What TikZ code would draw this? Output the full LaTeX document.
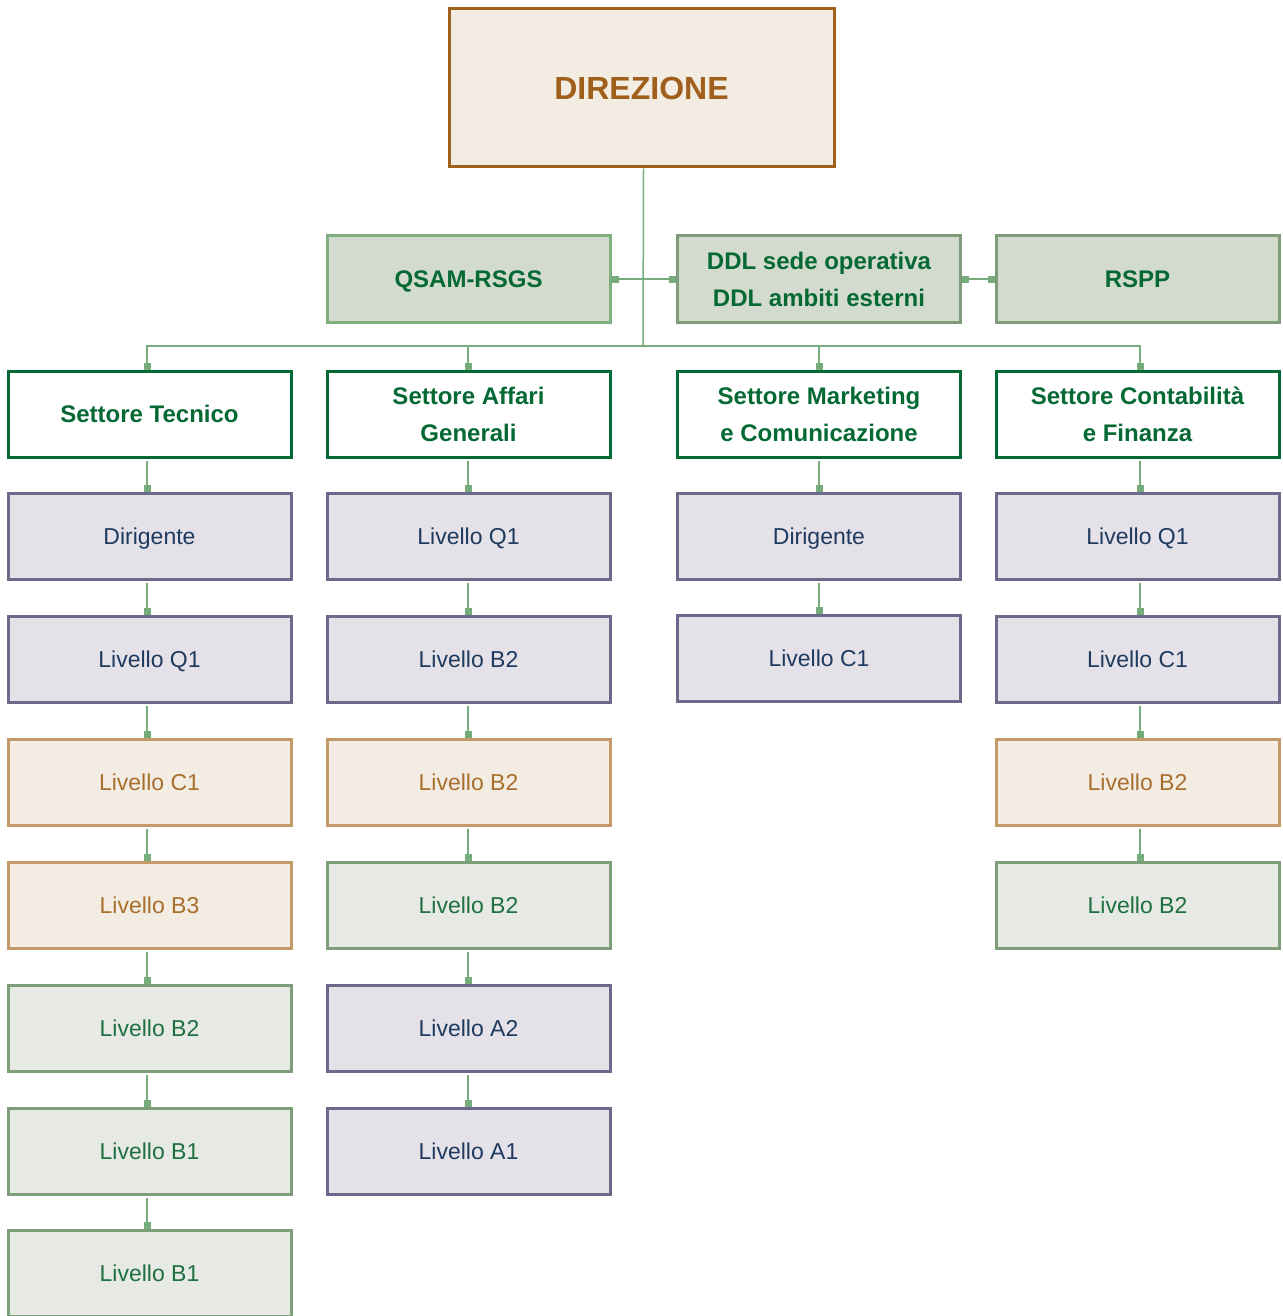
\documentclass[tikz,border=0pt]{standalone}
\usepackage{fontspec}
\setmainfont{Liberation Sans}
\usetikzlibrary{arrows.meta}
\definecolor{dirfill}{HTML}{F3ECE3}
\definecolor{dirdraw}{HTML}{A0601C}
\definecolor{dgreen}{HTML}{056934}
\definecolor{aufill}{HTML}{D3DACE}
\definecolor{audraw}{HTML}{7FAF7F}
\definecolor{audrawb}{HTML}{7E9B7A}
\definecolor{pufill}{HTML}{E4E1E8}
\definecolor{pudraw}{HTML}{6C6A8A}
\definecolor{putext}{HTML}{1F3A5F}
\definecolor{tafill}{HTML}{F3ECE2}
\definecolor{tadraw}{HTML}{C4996A}
\definecolor{tatext}{HTML}{A86F2C}
\definecolor{grfill}{HTML}{E7E9E4}
\definecolor{grdraw}{HTML}{7D9E78}
\definecolor{grtext}{HTML}{1E7040}
\definecolor{conncol}{HTML}{77AD7C}
\tikzset{
  box/.style={draw, rectangle, minimum width=141.5pt, minimum height=43pt, inner sep=0pt, align=center, line width=1.5pt},
  hd/.style={box, fill=white, draw=dgreen, text=dgreen, font=\fontsize{12}{18.5}\selectfont\bfseries},
  aux/.style={box, fill=aufill, draw=audraw, text=dgreen, font=\fontsize{12}{18.5}\selectfont\bfseries},
  auxb/.style={aux, draw=audrawb},
  oneb/.style={text height=8.6pt, text depth=0pt},
  lv/.style={box, font=\fontsize{11.5}{14}\selectfont, text height=8.3pt, text depth=0pt},
  pu/.style={lv, fill=pufill, draw=pudraw, text=putext},
  ta/.style={lv, fill=tafill, draw=tadraw, text=tatext},
  gr/.style={lv, fill=grfill, draw=grdraw, text=grtext},
  conn/.style={draw=conncol, line width=0.75pt},
  sq/.style={conn, -{Square[length=3.5pt,width=3.5pt,fill=conncol]}},
  sqq/.style={conn, {Square[length=3.5pt,width=3.5pt,fill=conncol]}-{Square[length=3.5pt,width=3.5pt,fill=conncol]}}
}
\begin{document}
\begin{tikzpicture}[x=0.5pt,y=-0.5pt]
\useasboundingbox (0,0) rectangle (1282,1316);
% Direzione
\node[box, minimum width=192.5pt, minimum height=79pt, fill=dirfill, draw=dirdraw, text=dirdraw, font=\fontsize{16}{18}\selectfont\bfseries, text height=11.5pt, text depth=0pt] (dir) at (641.5,88) {DIREZIONE};
% staff
\node[aux, oneb] (qsam) at (468.5,279) {QSAM-RSGS};
\node[auxb] (ddl) at (819,279) {DDL sede operativa\\DDL ambiti esterni};
\node[auxb, oneb] (rspp) at (1137.5,279) {RSPP};
% settori
\node[hd, oneb] (s1) at (149.5,414) {Settore Tecnico};
\node[hd] (s2) at (468.5,414) {Settore Affari\\Generali};
\node[hd] (s3) at (819,414) {Settore Marketing\\e Comunicazione};
\node[hd] (s4) at (1137.5,414) {Settore Contabilità\\e Finanza};
% column 1
\node[pu] (a1) at (149.5,536) {Dirigente};
\node[pu] (a2) at (149.5,659) {Livello Q1};
\node[ta] (a3) at (149.5,782) {Livello C1};
\node[ta] (a4) at (149.5,905) {Livello B3};
\node[gr] (a5) at (149.5,1028) {Livello B2};
\node[gr] (a6) at (149.5,1151) {Livello B1};
\node[gr] (a7) at (149.5,1273) {Livello B1};
% column 2
\node[pu] (b1) at (468.5,536) {Livello Q1};
\node[pu] (b2) at (468.5,659) {Livello B2};
\node[ta] (b3) at (468.5,782) {Livello B2};
\node[gr] (b4) at (468.5,905) {Livello B2};
\node[pu] (b5) at (468.5,1028) {Livello A2};
\node[pu] (b6) at (468.5,1151) {Livello A1};
% column 3
\node[pu] (c1) at (819,536) {Dirigente};
\node[pu] (c2) at (819,658) {Livello C1};
% column 4
\node[pu] (d1) at (1137.5,536) {Livello Q1};
\node[pu] (d2) at (1137.5,659) {Livello C1};
\node[ta] (d3) at (1137.5,782) {Livello B2};
\node[gr] (d4) at (1137.5,905) {Livello B2};
% tree
\coordinate (hub) at (643,346);
\draw[conn] ([xshift=1pt]dir.south) -- (hub);
\draw[sq] (hub) -| ([xshift=-1.25pt]s1.north);
\draw[sq] (hub) -| ([xshift=-0.25pt]s2.north);
\draw[sq] (hub) -| (s3.north);
\draw[sq] (hub) -| ([xshift=1.25pt]s4.north);
\draw[sqq] (qsam.east) -- (ddl.west);
\draw[sqq] (ddl.east) -- (rspp.west);
% vertical chains
\foreach \u/\v in {s1/a1,a1/a2,a2/a3,a3/a4,a4/a5,a5/a6,a6/a7}
  \draw[sq] ([xshift=-1.25pt,yshift=-1pt]\u.south) -- ([xshift=-1.25pt]\v.north);
\foreach \u/\v in {s2/b1,b1/b2,b2/b3,b3/b4,b4/b5,b5/b6}
  \draw[sq] ([xshift=-0.25pt,yshift=-1pt]\u.south) -- ([xshift=-0.25pt]\v.north);
\foreach \u/\v in {s3/c1,c1/c2}
  \draw[sq] ([yshift=-1pt]\u.south) -- (\v.north);
\foreach \u/\v in {s4/d1,d1/d2,d2/d3,d3/d4}
  \draw[sq] ([xshift=1.25pt,yshift=-1pt]\u.south) -- ([xshift=1.25pt]\v.north);
\end{tikzpicture}
\end{document}
